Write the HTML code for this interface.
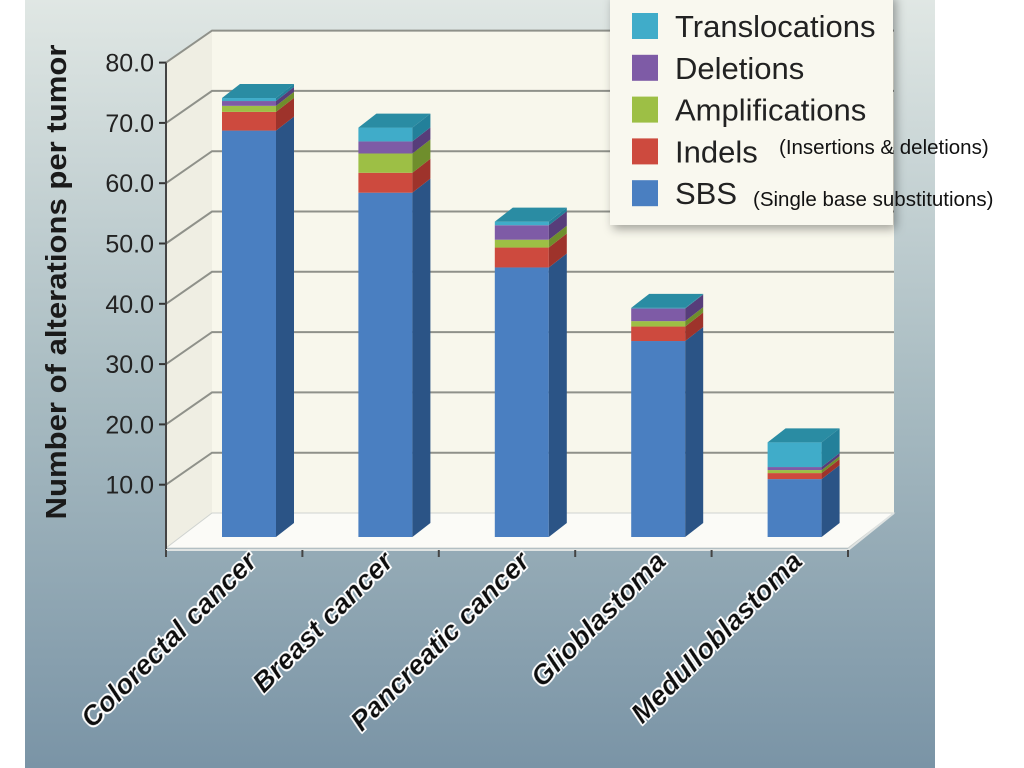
<!DOCTYPE html>
<html><head><meta charset="utf-8"><style>
html,body{margin:0;padding:0;background:#fff;}
svg{display:block;}
text{font-family:"Liberation Sans",sans-serif;}
</style></head><body>
<svg id="chart" width="1024" height="768" viewBox="0 0 1024 768">
<defs>
<linearGradient id="bg" x1="0" y1="0" x2="0" y2="1">
<stop offset="0" stop-color="#e0e7e4"/><stop offset="0.5" stop-color="#a9bcc2"/><stop offset="1" stop-color="#7a94a6"/>
</linearGradient>
<filter id="sh" x="-10%" y="-10%" width="130%" height="130%"><feDropShadow dx="3" dy="4" stdDeviation="5" flood-opacity="0.35"/></filter>
<filter id="halo"><feMorphology operator="dilate" radius="1.5" in="SourceAlpha" result="d"/><feFlood flood-color="#fff"/><feComposite in2="d" operator="in" result="w"/><feMerge><feMergeNode in="w"/><feMergeNode in="SourceGraphic"/></feMerge></filter>
</defs>
<rect x="25" y="0" width="910" height="768" fill="url(#bg)"/>
<g id="plot"></g>
<g id="legend"></g>
</svg>
<script>
const categories = ["Colorectal cancer","Breast cancer","Pancreatic cancer","Glioblastoma","Medulloblastoma"];
const seriesNames = ["SBS","Indels","Amplifications","Deletions","Translocations"];
const sbs = [67.4, 57.1, 44.7, 32.5, 9.6];
const indels = [3.1, 3.3, 3.3, 2.4, 1.0];
const amplifications = [1.0, 3.2, 1.3, 0.9, 0.5];
const deletions = [0.8, 2.0, 2.4, 2.1, 0.5];
const translocations = [0.5, 2.3, 0.6, 0.1, 4.1];
const yTicks = [10, 20, 30, 40, 50, 60, 70, 80];
const yTickLabels = ["10.0","20.0","30.0","40.0","50.0","60.0","70.0","80.0"];

const NS = "http://www.w3.org/2000/svg";
const plot = document.getElementById('plot');
const legend = document.getElementById('legend');
function mk(tag, attrs, parent){const e=document.createElementNS(NS,tag);for(const k in attrs)e.setAttribute(k,attrs[k]);(parent||plot).appendChild(e);return e;}
const X0=166, X1=848, Y0=545, PPU=6.03, DX=46, DY=-32, VTOP=80;
function yFront(v){return Y0 - v*PPU;}
function yBar(v){return 537 - v*PPU;}
const slot=(X1-X0)/categories.length;
function xBar(i){return X0 + slot*i + 56;}
const BW=54, SD=18, SH=14;

let e=mk('polygon',{points:`${X0},${yFront(VTOP)} ${X0+DX},${yFront(VTOP)+DY} ${X0+DX},${Y0+DY} ${X0},${Y0+3}`,fill:'#efeee3'});


e=mk('polygon',{points:`${X0+DX},${yFront(VTOP)+DY} ${X1+DX},${yFront(VTOP)+DY} ${X1+DX},${Y0+DY} ${X0+DX},${Y0+DY}`,fill:'#f8f7ec'});


e=mk('polygon',{points:`${X0},${Y0+3} ${X1},${Y0+3} ${X1+DX},${Y0+DY} ${X0+DX},${Y0+DY}`,fill:'#fbfbf7',stroke:'#cfd3d0','stroke-width':1});


yTicks.forEach((v,i)=>{
  const yf=yFront(v);
  const g=mk('polyline',{points:`${X0},${yf} ${X0+DX},${yf+DY} ${X1+DX},${yf+DY}`,fill:'none',stroke:'#8f918a','stroke-width':2});
  
  
  const t=mk('line',{x1:X0-7,y1:yf,x2:X0,y2:yf,stroke:'#333','stroke-width':2});
  
  
  const l=mk('text',{x:X0-12,y:yf+9,'text-anchor':'end','font-size':25,fill:'#222'});
  l.textContent=yTickLabels[i];
  
  
});
e=mk('line',{x1:X0,y1:yFront(VTOP),x2:X0,y2:Y0+5,stroke:'#444','stroke-width':2});


e=mk('polyline',{points:`${X0},${Y0+5} ${X1},${Y0+5} ${X1+DX},${Y0+DY}`,fill:'none',stroke:'#dfe3e2','stroke-width':2});


for(let i=0;i<=categories.length;i++){
  const x=X0+slot*i;
  const t=mk('line',{x1:x,y1:Y0+5,x2:x,y2:Y0+12,stroke:'#444','stroke-width':2});
  
  
}
const series=[sbs,indels,amplifications,deletions,translocations];
const front=['#4a7fc1','#cd4a3e','#9dbf45','#7e5ba6','#40acc9'];
const side=['#2b5486','#9e332b','#6f8e2c','#573d7a','#23809a'];
const topc=['#3b6cab','#b03a32','#86a83a','#5e4385','#2a8ca3'];
categories.forEach((c,i)=>{
  const x=xBar(i);
  let acc=0, lastTop=0;
  series.forEach((s,k)=>{
    const v=s[i]; if(v<=0) return;
    const y1=yBar(acc), y2=yBar(acc+v);
    const f=mk('rect',{x:x,y:y2,width:BW,height:y1-y2,fill:front[k]});
    
    
    const sd=mk('polygon',{points:`${x+BW},${y2} ${x+BW+SD},${y2-SH} ${x+BW+SD},${y1-SH} ${x+BW},${y1}`,fill:side[k]});
    
    
    acc+=v; lastTop=k;
  });
  const yt=yBar(acc);
  const tp=mk('polygon',{points:`${x},${yt} ${x+SD},${yt-SH} ${x+BW+SD},${yt-SH} ${x+BW},${yt}`,fill:topc[lastTop]});
  
  
  const lx=X0+slot*(i+1)-44, ly=Y0+18;
  const lb=mk('text',{x:lx,y:ly,'text-anchor':'end','font-size':28,'font-weight':'bold','font-style':'italic',fill:'#111',transform:`rotate(-45 ${lx} ${ly})`,filter:'url(#halo)'});
  lb.textContent=c;
  
  
});
e=mk('text',{x:66,y:282,'text-anchor':'middle','font-size':29,'font-weight':'bold',fill:'#1a1a1a',textLength:475,lengthAdjust:'spacingAndGlyphs',transform:'rotate(-90 66 282)'});
e.textContent='Number of alterations per tumor';



e=mk('rect',{x:610,y:-6,width:283,height:231,fill:'#f9f8ef',filter:'url(#sh)'},legend);


const legOrder=[4,3,2,1,0];
legOrder.forEach((k,j)=>{
  const y=13+j*41.8;
  const sw=mk('rect',{x:632,y:y,width:26,height:26,fill:front[k]},legend);
  
  
  const t=mk('text',{x:675,y:y+24,'font-size':31,fill:'#222'},legend);
  t.textContent=seriesNames[k];
  
  
});
e=mk('text',{x:779,y:154,'font-size':20.5,fill:'#111'},legend);
e.textContent='(Insertions & deletions)';


e=mk('text',{x:753,y:206,'font-size':20.5,fill:'#111'},legend);
e.textContent='(Single base substitutions)';


</script>
</body></html>
